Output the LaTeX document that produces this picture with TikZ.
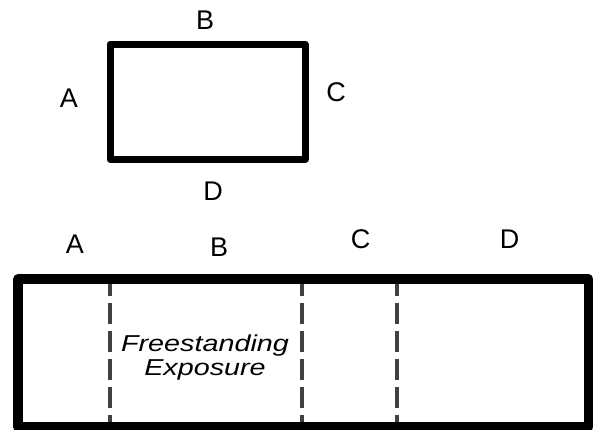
\documentclass[tikz,border=0pt]{standalone}
\usepackage{fontspec}
\setmainfont{Liberation Sans}
\usetikzlibrary{positioning}

\begin{document}
\begin{tikzpicture}[
      x = 0.5pt, y = -0.5pt,
      line join = round
    ]
    \tikzstyle{side label} = [inner sep=0pt, font=\fontsize{13.5}{15}\selectfont]
    \tikzstyle{wall line} = [line width=3.5pt]
    \tikzstyle{run line} = [line width=4.8pt]
    \tikzstyle{fold line} = [line width=2pt, draw=black!75, dash pattern=on 10.5pt off 3.5pt]
    \useasboundingbox (0,0) rectangle (598,429);
    % plan of the building
    \coordinate (p1) at (110,44);
    \coordinate (p2) at (305,159.5);
    \draw[wall line] (p1) rectangle (p2);
    \node[side label] (pA) at (69,98) {A};
    \node[side label] (pB) at (205,20) {B};
    \node[side label] (pC) at (336,92) {C};
    \node[side label] (pD) at (213,191) {D};
    % unfolded walls
    \foreach \x [count=\i] in {109.5,302,397} {
      \coordinate (f\i t) at (\x,275);
      \coordinate (f\i b) at (\x,427);
      \draw[fold line] (f\i t) -- (f\i b);
    }
    \coordinate (u1) at (18,279);
    \coordinate (u2) at (588.5,427);
    \draw[run line] (u1) rectangle (u2);
    \node[side label] (uA) at (75,244) {A};
    \node[side label] (uB) at (219,247.5) {B};
    \node[side label] (uC) at (360.5,239.5) {C};
    \node[side label] (uD) at (509.5,239.5) {D};
    \node[align=center, inner sep=0pt, xscale=1.25,
          font=\fontsize{11.5}{12}\selectfont\itshape] (exp) at (205,358)
          {Freestanding\\Exposure};
  \end{tikzpicture}
\end{document}
